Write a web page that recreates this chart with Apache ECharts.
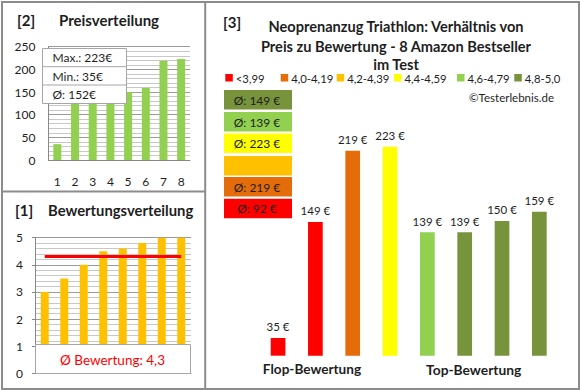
<!DOCTYPE html>
<html>
<head>
<meta charset="utf-8">
<script src="https://cdn.jsdelivr.net/npm/echarts@6/dist/echarts.min.js"></script>
<style>
html,body{margin:0;padding:0;background:#fff;}
#c{width:580px;height:390px;}
</style>
</head>
<body>
<div id="c"></div>
<script>
// ---------- data ----------
const productNumbers = ['1','2','3','4','5','6','7','8'];
const sortedPrices = [35, 139, 139, 149, 150, 159, 219, 223];
const sortedRatings = [3.0, 3.5, 4.0, 4.5, 4.6, 4.8, 5.0, 5.0];
const averageRating = 4.3;
const averageRatingText = 'Ø Bewertung: 4,3';
const priceStats = ['Max.: 223€', 'Min.: 35€', 'Ø: 152€'];
const priceYTicks = [0, 50, 100, 150, 200, 250];
const ratingYTicks = [0, 1, 2, 3, 4, 5];

const comparePrices = [35, 149, 219, 223, 139, 139, 150, 159];
const compareBands = [0, 0, 1, 3, 4, 5, 5, 5];
const bandLabels = ['<3,99', '4,0-4,19', '4,2-4,39', '4,4-4,59', '4,6-4,79', '4,8-5,0'];
const bandAverages = [92, 219, null, 223, 139, 149];
const groupLabels = ['Flop-Bewertung', 'Top-Bewertung'];
const titleLines = ['Neoprenanzug Triathlon: Verhältnis von', 'Preis zu Bewertung - 8 Amazon Bestseller', 'im Test'];
const copyrightText = '©Testerlebnis.de';

// ---------- styles ----------
const FONT = 'Lato, "Open Sans", sans-serif';
const TXT = '#1e1e1e';
const BAND_COLORS = ['#FF0000', '#E46C0A', '#FFC000', '#FFFF00', '#92D050', '#77933C'];
const BORDER = '#8c8c8c';

function txt(x, y, text, size, weight, align, color) {
  return {type:'text', x:x, y:y, z:120, silent:true,
    style:{text:text, font:(weight||'normal') + ' ' + size + 'px ' + FONT,
      fill:color||TXT, textAlign:align||'left', textVerticalAlign:'middle'}};
}

const graphics = [];
// panel borders
graphics.push({type:'rect', z:130, silent:true, shape:{x:2,y:2,width:577,height:387}, style:{fill:'none', stroke:BORDER, lineWidth:2}});
graphics.push({type:'line', z:130, silent:true, shape:{x1:205.2,y1:2,x2:205.2,y2:389}, style:{stroke:BORDER, lineWidth:2}});
graphics.push({type:'line', z:130, silent:true, shape:{x1:2,y1:191.5,x2:205,y2:191.5}, style:{stroke:BORDER, lineWidth:2}});

// panel [2]
graphics.push(txt(17, 20, '[2]', 15, 'bold'));
graphics.push(txt(59, 20, 'Preisverteilung', 15, 'bold'));
graphics.push({type:'rect', z:110, silent:true, shape:{x:42.5,y:48.5,width:84,height:55}, style:{fill:'#fff', stroke:'#a6a6a6', lineWidth:1}});
graphics.push({type:'line', z:111, silent:true, shape:{x1:42.5,y1:66.7,x2:126.5,y2:66.7}, style:{stroke:'#a6a6a6', lineWidth:1}});
graphics.push({type:'line', z:111, silent:true, shape:{x1:42.5,y1:85,x2:126.5,y2:85}, style:{stroke:'#a6a6a6', lineWidth:1}});
priceStats.forEach(function(s, i){ graphics.push(txt(52.5, 57.7 + i*18.3, s, 12, 'normal')); });

// panel [1]
graphics.push(txt(15, 210, '[1]', 15, 'bold'));
graphics.push(txt(48, 210, 'Bewertungsverteilung', 14.8, 'bold'));
graphics.push({type:'rect', z:110, silent:true, shape:{x:35.5,y:344.5,width:155,height:29}, style:{fill:'#fff', stroke:'#a6a6a6', lineWidth:1}});
graphics.push(txt(112.5, 359.5, averageRatingText, 13.5, 'normal', 'center', '#FF0000'));

// panel [3]
graphics.push(txt(223, 22, '[3]', 15, 'bold'));
const titleY = [26, 46, 64];
titleLines.forEach(function(s, i){ graphics.push(txt(396, titleY[i], s, 14.6, 'bold', 'center')); });
const legSquareX = [225.3, 280.7, 336.7, 394, 457, 514.3];
bandLabels.forEach(function(s, i){
  graphics.push({type:'rect', z:110, silent:true, shape:{x:legSquareX[i], y:74, width:7.5, height:7.5}, style:{fill:BAND_COLORS[i]}});
  graphics.push(txt(legSquareX[i] + 10.5, 78, s, 11.3, 'normal'));
});
graphics.push(txt(554, 97.7, copyrightText, 11.5, 'normal', 'right'));
const boxY = [90, 112, 133.5, 156, 177, 198.7];
for (let k = 0; k < 6; k++) {
  const band = 5 - k;
  graphics.push({type:'rect', z:110, silent:true, shape:{x:224, y:boxY[k], width:68, height:19.5}, style:{fill:BAND_COLORS[band]}});
  if (bandAverages[band] !== null) {
    graphics.push(txt(257, boxY[k] + 10, 'Ø: ' + bandAverages[band] + ' €', 12, 'normal', 'center'));
  }
}
graphics.push(txt(312, 369, groupLabels[0], 13.6, 'bold', 'center'));
graphics.push(txt(473.7, 369, groupLabels[1], 13.8, 'bold', 'center'));

const axisLabelBase = {fontFamily:FONT, fontSize:12, color:TXT};

const option = {
  animation:false,
  backgroundColor:'#fff',
  grid:[
    {left:48.5, top:46.7, width:141.5, height:113.3},
    {left:35, top:237.7, width:156, height:135.6},
    {left:259.4, top:119.2, width:298.6, height:236.5}
  ],
  xAxis:[
    {gridIndex:0, type:'category', data:productNumbers,
      axisLine:{show:true, lineStyle:{color:'#888', width:1}}, axisTick:{show:false},
      axisLabel:Object.assign({margin:15}, axisLabelBase)},
    {gridIndex:1, type:'category', data:productNumbers,
      axisLine:{show:true, lineStyle:{color:'#888'}}, axisTick:{show:false}, axisLabel:{show:false}},
    {gridIndex:2, type:'category', data:productNumbers, show:false}
  ],
  yAxis:[
    {gridIndex:0, type:'value', min:priceYTicks[0], max:priceYTicks[priceYTicks.length-1], interval:50,
      axisLine:{show:true, lineStyle:{color:'#888'}}, axisTick:{show:false},
      axisLabel:Object.assign({margin:13}, axisLabelBase),
      splitLine:{show:true, lineStyle:{color:'#9a9a9a', width:1}},
      minorTick:{show:true, splitNumber:5, length:0, lineStyle:{color:'rgba(0,0,0,0)'}},
      minorSplitLine:{show:true, lineStyle:{color:'#c8c8c8', width:1}}},
    {gridIndex:1, type:'value', min:ratingYTicks[0], max:ratingYTicks[ratingYTicks.length-1], interval:1,
      axisLine:{show:true, lineStyle:{color:'#888'}}, axisTick:{show:true, length:3, lineStyle:{color:'#888'}},
      axisLabel:Object.assign({margin:12}, axisLabelBase),
      splitLine:{show:true, lineStyle:{color:'#9a9a9a', width:1}},
      minorTick:{show:true, splitNumber:5, length:0, lineStyle:{color:'rgba(0,0,0,0)'}},
      minorSplitLine:{show:true, lineStyle:{color:'#c8c8c8', width:1}}},
    {gridIndex:2, type:'value', min:17.6, max:250, show:false, splitLine:{show:false}}
  ],
  series:[
    {type:'bar', xAxisIndex:0, yAxisIndex:0, data:sortedPrices, barWidth:8,
      itemStyle:{color:'#92D050'}, z:3},
    {type:'bar', xAxisIndex:1, yAxisIndex:1, data:sortedRatings, barWidth:8,
      itemStyle:{color:'#FFC000'}, z:3,
      markLine:{silent:true, symbol:'none', label:{show:false},
        lineStyle:{color:'#FF0000', width:3, type:'solid'},
        data:[[{coord:[productNumbers[0], averageRating]}, {coord:[productNumbers[7], averageRating]}]]}},
    {type:'bar', xAxisIndex:2, yAxisIndex:2, barWidth:14.7, z:3,
      data:comparePrices.map(function(v, i){ return {value:v, itemStyle:{color:BAND_COLORS[compareBands[i]]}}; }),
      label:{show:true, position:'top', distance:5, fontFamily:FONT, fontSize:11.5, color:TXT,
        formatter:function(p){ return p.value + ' €'; }}}
  ],
  graphic:{elements:graphics}
};

const chart = echarts.init(document.getElementById('c'), null, {renderer:'svg'});
chart.setOption(option);
</script>
</body>
</html>
